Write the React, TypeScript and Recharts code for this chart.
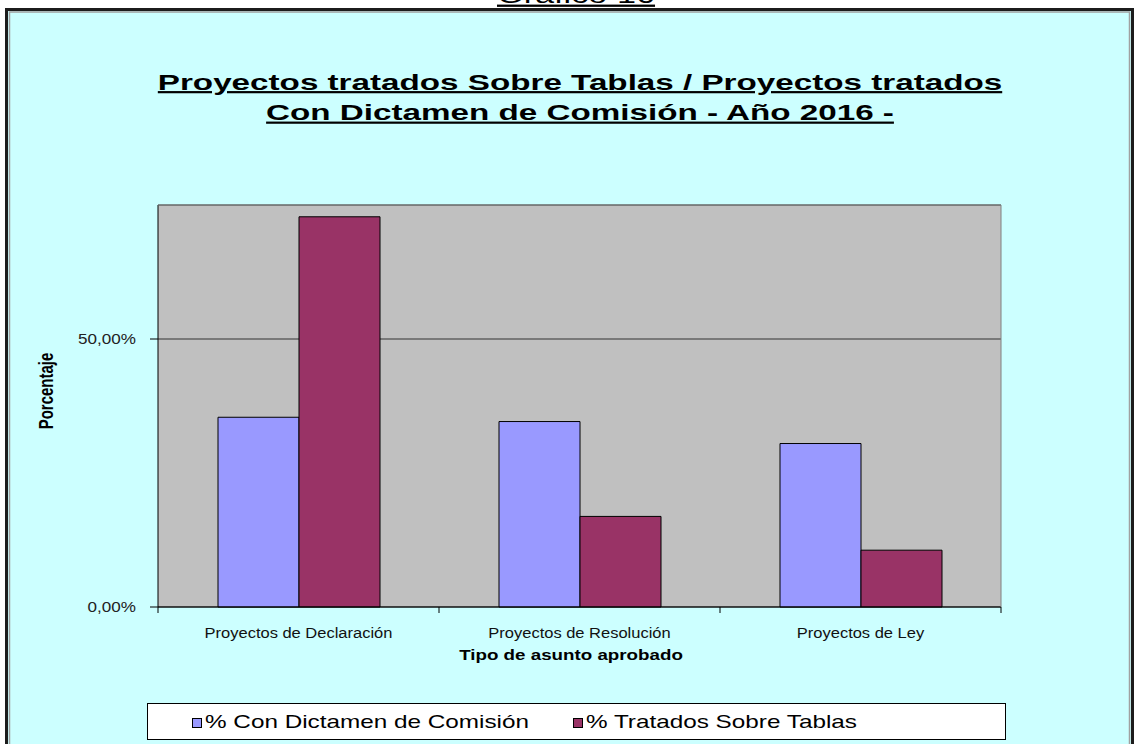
import React from 'react';
import { BarChart, Bar, XAxis, YAxis, CartesianGrid } from 'recharts';

// ---- data ----
const categories = ['Proyectos de Declaración', 'Proyectos de Resolución', 'Proyectos de Ley'];
const conDictamen = [35.4, 34.6, 30.5];
const sobreTablas = [72.8, 16.9, 10.6];
const yTicks = [0, 50];
const yDomain = [0, 75];
const seriesNames = ['% Con Dictamen de Comisión', '% Tratados Sobre Tablas'];
const seriesKeys = ['conDictamen', 'sobreTablas'];
const seriesColors = ['#9999FF', '#993366'];
const pageTitle = 'Gráfico 16';
const titleLines = ['Proyectos tratados Sobre Tablas / Proyectos tratados', 'Con Dictamen de Comisión - Año 2016 -'];
const xTitle = 'Tipo de asunto aprobado';
const yTitle = 'Porcentaje';

const data = categories.map((c, i) => ({ name: c, conDictamen: conDictamen[i], sobreTablas: sobreTablas[i] }));

const FONT = '"Liberation Sans", Arial, sans-serif';
const W = 1136;
const H = 744;

const fmt = (v: number) => v.toFixed(2).replace('.', ',') + '%';

function SText(props: any) {
  const { x, y, sx = 1, sy = 1, rotate = 0, anchor = 'middle', size, weight = 'normal', fill = '#000', underline = false, dy, children } = props;
  return (
    <text
      transform={`translate(${x},${y}) rotate(${rotate}) scale(${sx},${sy})`}
      x={0}
      y={0}
      dy={dy}
      textAnchor={anchor}
      fontSize={size}
      fontWeight={weight}
      fill={fill}
      fontFamily={FONT}
      style={underline ? { textDecoration: 'underline' } : undefined}
    >
      {children}
    </text>
  );
}

const CatTick = (props: any) => {
  const { x, y, payload, index } = props;
  const half = payload && payload.offset ? payload.offset : 843 / 6;
  const axisY = y - 8;
  const isLast = index === categories.length - 1;
  return (
    <g>
      <line x1={x - half} x2={x - half} y1={axisY} y2={axisY + 6} stroke="#000" />
      {isLast && <line x1={x + half} x2={x + half} y1={axisY} y2={axisY + 6} stroke="#000" />}
      <SText x={x} y={y + 23} sx={1.1} size={15} fill="#111">{payload.value}</SText>
    </g>
  );
};

const YTick = (props: any) => {
  const { x, y, payload } = props;
  return (
    <SText x={x} y={y + 5} anchor="end" sx={1.22} size={14} fill="#222">{fmt(payload.value)}</SText>
  );
};

const legendItemX = [192, 573];

export default function App() {
  return (
    <div style={{ position: 'absolute', left: 0, top: 0, width: W, height: H, overflow: 'hidden', background: '#fff' }}>
      <svg width={W} height={H} style={{ position: 'absolute', left: 0, top: 0 }}>
        <rect x={6.5} y={9.5} width={1126} height={800} fill="#CCFFFF" stroke="#1c1c1c" strokeWidth={3} />
        <rect x={9.5} y={12} width={1120} height={800} fill="none" stroke="#a0a0a0" strokeWidth={1.5} />
      </svg>
      <div style={{ position: 'absolute', left: 0, top: 0 }}>
        <BarChart width={W} height={H} data={data} margin={{ top: 205, right: 135, bottom: 97, left: 0 }} barGap={0} barSize={81}>
          <CartesianGrid horizontal vertical={false} stroke="#333" fill="#C0C0C0" />
          <XAxis
            dataKey="name"
            height={40}
            interval={0}
            tickLine={false}
            tickSize={6}
            tickMargin={2}
            axisLine={{ stroke: '#000' }}
            tick={<CatTick />}
          />
          <YAxis
            width={158}
            domain={yDomain}
            ticks={yTicks}
            tickSize={8}
            tickMargin={14}
            axisLine={{ stroke: '#000' }}
            tickLine={{ stroke: '#000' }}
            tick={<YTick />}
          />
          {seriesKeys.map((k, i) => (
            <Bar key={k} dataKey={k} name={seriesNames[i]} fill={seriesColors[i]} stroke="#000" strokeWidth={1} isAnimationActive={false} />
          ))}
        </BarChart>
      </div>
      <svg width={W} height={H} style={{ position: 'absolute', left: 0, top: 0, pointerEvents: 'none' }}>
        <polyline points="158,205 1001,205 1001,607" fill="none" stroke="#808080" strokeWidth={1} />
        <SText x={576} y={3} size={23} sx={1.49} underline>{pageTitle}</SText>
        <SText x={580} y={89.5} size={22} sx={1.51} weight="bold" underline>{titleLines[0]}</SText>
        <SText x={580} y={120} size={22} sx={1.51} weight="bold" underline>{titleLines[1]}</SText>
        <SText x={571} y={660} size={14} sx={1.34} weight="bold">{xTitle}</SText>
        <SText x={46} y={391} size={15} sy={1.3} rotate={-90} weight="bold" dy="0.36em">{yTitle}</SText>
        <rect x={147.5} y={703.5} width={858} height={36} fill="#fff" stroke="#000" strokeWidth={1} />
        {seriesNames.map((n, i) => (
          <g key={n}>
            <rect x={legendItemX[i] + 0.5} y={718.5} width={9} height={9} fill={seriesColors[i]} stroke="#000" strokeWidth={1} />
            <SText x={legendItemX[i] + 13} y={728} size={18} sx={1.35} anchor="start">{n}</SText>
          </g>
        ))}
      </svg>
    </div>
  );
}
